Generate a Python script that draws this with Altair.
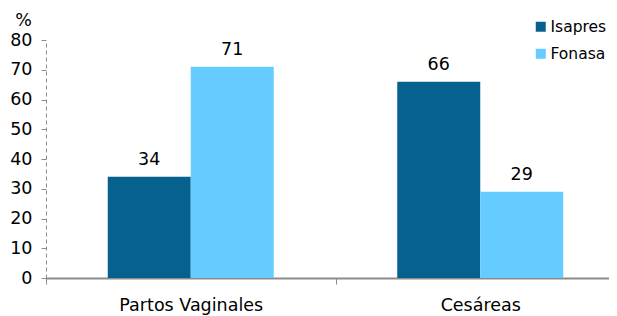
import altair as alt
import pandas as pd

categories = ["Partos Vaginales", "Cesáreas"]
series = ["Isapres", "Fonasa"]
isapres = [34, 66]
fonasa = [71, 29]
colors = ["#07618F", "#66CCFF"]
y_ticks = [0, 10, 20, 30, 40, 50, 60, 70, 80]

rows = []
for i, c in enumerate(categories):
    rows.append({"category": c, "series": "Isapres", "value": isapres[i]})
    rows.append({"category": c, "series": "Fonasa", "value": fonasa[i]})
df = pd.DataFrame(rows)

FONT = "DejaVu Sans"
FS = 17.5

x = alt.X(
    "category:N",
    sort=categories,
    scale=alt.Scale(paddingInner=0, paddingOuter=0, range=[0, 579]),
    axis=alt.Axis(
        title=None,
        labelAngle=0,
        labelFontSize=FS,
        labelColor="#000000",
        labelPadding=12,
        domainColor="#8c8c8c",
        domainWidth=2,
        tickColor="#8c8c8c",
        tickSize=6,
        tickBand="extent",
    ),
)
xo = alt.XOffset(
    "series:N",
    sort=series,
    scale=alt.Scale(paddingInner=0, paddingOuter=0.744),
)
y = alt.Y(
    "value:Q",
    scale=alt.Scale(domain=[0, 80], nice=False),
    axis=alt.Axis(
        values=y_ticks,
        grid=False,
        title="%",
        titleAngle=0,
        titleAlign="center",
        titleBaseline="alphabetic",
        titleX=-23,
        titleY=-15,
        titleFontSize=FS,
        titleFontWeight="normal",
        titleColor="#000000",
        labelFontSize=FS,
        labelColor="#000000",
        labelPadding=9,
        domainColor="#8c8c8c",
        domainDash=[4, 3],
        tickColor="#8c8c8c",
        tickSize=5,
    ),
)

bars = alt.Chart(df).mark_bar().encode(
    x=x,
    xOffset=xo,
    y=y,
    color=alt.Color(
        "series:N",
        sort=series,
        scale=alt.Scale(domain=series, range=colors),
        legend=alt.Legend(
            title=None,
            orient="none",
            legendX=487,
            legendY=-21,
            symbolType="square",
            symbolSize=100,
            symbolStrokeWidth=0,
            labelFontSize=15.5,
            labelColor="#000000",
            rowPadding=10,
            labelOffset=2,
        ),
    ),
)

text = alt.Chart(df).mark_text(
    baseline="alphabetic", dy=-12, fontSize=FS, color="#000000"
).encode(
    x=x,
    xOffset=xo,
    y=y,
    text=alt.Text("value:Q"),
)

chart = (
    alt.layer(bars, text)
    .properties(
        width=563,
        height=238,
        autosize=alt.AutoSizeParams(type="none"),
        padding={"left": 38, "top": 32, "right": 0, "bottom": 38},
    )
    .configure(font=FONT)
    .configure_view(stroke=None)
)

chart.save("out.html", embed_options={"renderer": "svg", "actions": False})
